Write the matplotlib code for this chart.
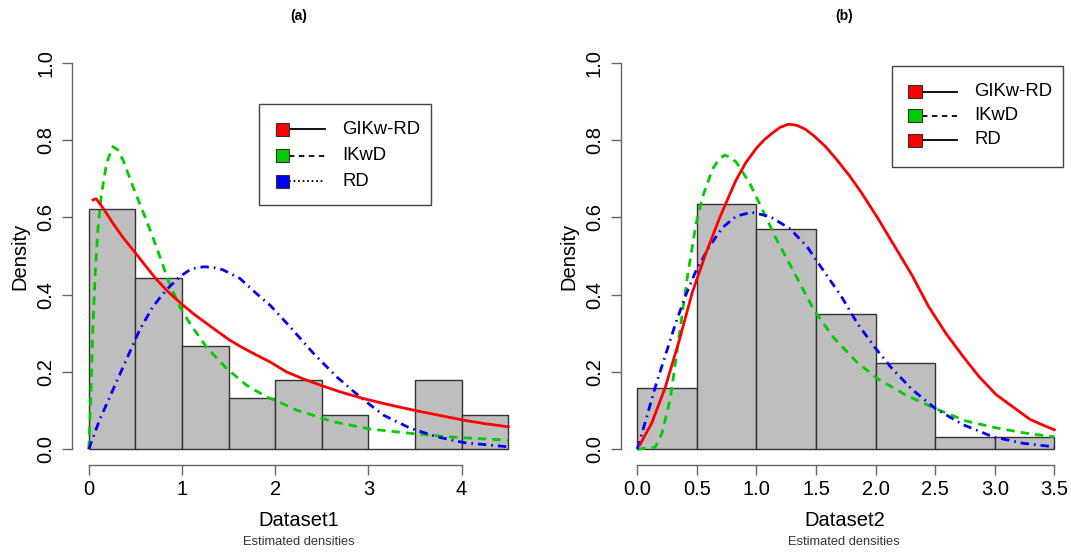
import matplotlib
matplotlib.use("Agg")
import matplotlib.pyplot as plt
from matplotlib.patches import Rectangle
from matplotlib.lines import Line2D
import numpy as np

plt.rcParams['font.family'] = ['Liberation Sans', 'DejaVu Sans']

# ---------------- data ----------------
bin_edges_1 = [0, 0.5, 1, 1.5, 2, 2.5, 3, 3.5, 4, 4.5]
hist_dens_1 = [0.622, 0.444, 0.267, 0.133, 0.178, 0.089, 0.0, 0.178, 0.089]

bin_edges_2 = [0, 0.5, 1, 1.5, 2, 2.5, 3, 3.5]
hist_dens_2 = [0.159, 0.635, 0.571, 0.349, 0.222, 0.032, 0.032]

# panel (a) curves
a_gikw_x = [0.045, 0.08, 0.17, 0.258, 0.36, 0.473, 0.617, 0.72, 0.832, 0.92, 1.01, 1.13,
            1.26, 1.39, 1.513, 1.64, 1.763, 1.943, 2.12, 2.3, 2.48, 2.7, 2.946, 3.2,
            3.484, 3.75, 4.02, 4.25, 4.5]
a_gikw_y = [0.645, 0.648, 0.618, 0.585, 0.55, 0.516, 0.472, 0.441, 0.412, 0.392, 0.373,
            0.349, 0.326, 0.303, 0.282, 0.264, 0.248, 0.226, 0.200, 0.182, 0.166, 0.148,
            0.131, 0.116, 0.101, 0.088, 0.075, 0.066, 0.058]

a_ikw_x = [0.0, 0.02, 0.043, 0.07, 0.097, 0.133, 0.19, 0.258, 0.31, 0.366, 0.473, 0.617,
           0.725, 0.85, 0.975, 1.083, 1.26, 1.477, 1.69, 1.908, 2.05, 2.23, 2.62, 3.02,
           3.45, 3.84, 4.5]
a_ikw_y = [0.0, 0.12, 0.31, 0.46, 0.567, 0.654, 0.74, 0.783, 0.775, 0.749, 0.68, 0.593,
           0.524, 0.438, 0.369, 0.326, 0.265, 0.209, 0.166, 0.135, 0.121, 0.101, 0.071,
           0.052, 0.041, 0.032, 0.023]

a_rd_x = [0.0, 0.115, 0.258, 0.402, 0.545, 0.688, 0.832, 0.975, 1.083, 1.16, 1.244, 1.34,
          1.44, 1.62, 1.835, 1.943, 2.158, 2.41, 2.66, 2.91, 3.162, 3.45, 3.735, 4.02,
          4.5]
a_rd_y = [0.0, 0.075, 0.153, 0.231, 0.308, 0.369, 0.412, 0.446, 0.464, 0.47, 0.472, 0.47,
          0.464, 0.442, 0.395, 0.373, 0.317, 0.248, 0.187, 0.135, 0.088, 0.054, 0.032,
          0.017, 0.006]

# panel (b) curves
b_gikw_x = [0.023, 0.122, 0.235, 0.349, 0.462, 0.575, 0.689, 0.76, 0.83, 0.91, 1.0, 1.07,
            1.142, 1.2, 1.27, 1.34, 1.41, 1.482, 1.58, 1.68, 1.78, 1.879, 2.02, 2.162,
            2.304, 2.445, 2.587, 2.729, 2.87, 3.012, 3.154, 3.296, 3.4, 3.5]
b_gikw_y = [0.012, 0.068, 0.16, 0.278, 0.406, 0.506, 0.597, 0.648, 0.697, 0.741, 0.779,
            0.802, 0.82, 0.833, 0.841, 0.838, 0.828, 0.811, 0.783, 0.747, 0.708, 0.665,
            0.597, 0.524, 0.451, 0.369, 0.301, 0.242, 0.187, 0.141, 0.109, 0.077, 0.063,
            0.05]

b_ikw_x = [0.0, 0.15, 0.207, 0.278, 0.349, 0.419, 0.49, 0.547, 0.632, 0.68, 0.731, 0.78,
           0.83, 0.944, 1.057, 1.17, 1.312, 1.482, 1.652, 1.85, 2.02, 2.247, 2.502, 2.757,
           3.012, 3.267, 3.5]
b_ikw_y = [0.0, 0.005, 0.041, 0.132, 0.287, 0.442, 0.579, 0.652, 0.725, 0.748, 0.761,
           0.756, 0.743, 0.688, 0.615, 0.542, 0.46, 0.36, 0.287, 0.223, 0.182, 0.141,
           0.105, 0.073, 0.055, 0.041, 0.032]

b_rd_x = [0.0, 0.065, 0.15, 0.235, 0.32, 0.405, 0.49, 0.604, 0.717, 0.83, 0.958, 1.114,
          1.284, 1.425, 1.567, 1.709, 1.85, 1.992, 2.134, 2.304, 2.502, 2.729, 2.984,
          3.239, 3.5]
b_rd_y = [0.0, 0.068, 0.16, 0.242, 0.324, 0.397, 0.46, 0.524, 0.574, 0.603, 0.613, 0.602,
          0.57, 0.524, 0.46, 0.397, 0.324, 0.264, 0.21, 0.155, 0.105, 0.064, 0.032,
          0.015, 0.006]

y_ticks = [0.0, 0.2, 0.4, 0.6, 0.8, 1.0]
y_tick_labels = ['0.0', '0.2', '0.4', '0.6', '0.8', '1.0']
x_ticks_1 = [0, 1, 2, 3, 4]
x_ticks_1_labels = ['0', '1', '2', '3', '4']
x_ticks_2 = [0.0, 0.5, 1.0, 1.5, 2.0, 2.5, 3.0, 3.5]
x_ticks_2_labels = ['0.0', '0.5', '1.0', '1.5', '2.0', '2.5', '3.0', '3.5']

legend_a_labels = ['GIKw-RD', 'IKwD', 'RD']
legend_a_colors = ['#FF0000', '#00CD00', '#0000FF']
legend_a_styles = ['-', (0, (3, 2.5)), (0, (1, 1.5))]
legend_b_labels = ['GIKw-RD', 'IKwD', 'RD']
legend_b_colors = ['#FF0000', '#00CD00', '#FF0000']
legend_b_styles = ['-', (0, (3, 2.5)), '-']

# ---------------- figure ----------------
W, H = 1071, 552
fig = plt.figure(figsize=(W / 100, H / 100), dpi=100)


def fx(px):
    return px / W


def fy(py):
    return 1 - py / H


RED, GREEN, BLUE = '#FF0000', '#00CD00', '#0000FF'
AXC = '#666666'
FS = 14.5


def make_panel(rect, edges, dens, xlim, xbound, xticks, xticklabels):
    ax = fig.add_axes(rect)
    widths = np.diff(edges)
    ax.bar(edges[:-1], dens, width=widths, align='edge', color='#BEBEBE',
           edgecolor='#333333', linewidth=1.0, zorder=1)
    ax.set_xlim(*xlim)
    ax.set_ylim(-0.04, 1.04)
    for s in ['top', 'right']:
        ax.spines[s].set_visible(False)
    ax.spines['left'].set_bounds(0, 1)
    ax.spines['bottom'].set_bounds(*xbound)
    for s in ['left', 'bottom']:
        ax.spines[s].set_color(AXC)
        ax.spines[s].set_linewidth(1.0)
    ax.set_yticks(y_ticks)
    ax.set_yticklabels(y_tick_labels)
    ax.set_xticks(xticks)
    ax.set_xticklabels(xticklabels)
    ax.tick_params(axis='both', length=7, width=1.0, color=AXC, labelsize=FS)
    ax.tick_params(axis='y', labelrotation=90, pad=5)
    ax.tick_params(axis='x', pad=4)
    for lab in ax.get_yticklabels():
        lab.set_va('center')
    ax.set_ylabel('Density', fontsize=FS, labelpad=5)
    return ax


axA = make_panel([fx(72), fy(464.6), fx(525) - fx(72), fy(47.3) - fy(464.6)],
                 bin_edges_1, hist_dens_1, (-0.18, 4.68), (0, 4),
                 x_ticks_1, x_ticks_1_labels)
axB = make_panel([fx(620.6), fy(464.6), fx(1071) - fx(620.6), fy(47.3) - fy(464.6)],
                 bin_edges_2, hist_dens_2, (-0.14, 3.64), (0, 3.5),
                 x_ticks_2, x_ticks_2_labels)

LW = 2.0
for ax, (ix, iy), (rx, ry), (gx, gy) in [
        (axA, (a_ikw_x, a_ikw_y), (a_rd_x, a_rd_y), (a_gikw_x, a_gikw_y)),
        (axB, (b_ikw_x, b_ikw_y), (b_rd_x, b_rd_y), (b_gikw_x, b_gikw_y))]:
    ax.plot(ix, iy, color=GREEN, lw=LW, dashes=(3, 2.2), zorder=3,
            dash_joinstyle='round', dash_capstyle='butt')
    ax.plot(rx, ry, color=BLUE, lw=LW, dashes=(3, 1.8, 0.6, 1.8), zorder=3,
            dash_joinstyle='round')
    ax.plot(gx, gy, color=RED, lw=LW, zorder=4, solid_joinstyle='round')

# titles, axis labels and subtitles (figure text)
centers = [(72 + 525) / 2, (620.6 + 1071) / 2 - 1.5]
for cx, t, xl in zip(centers, ['(a)', '(b)'], ['Dataset1', 'Dataset2']):
    fig.text(fx(cx), fy(16), t, ha='center', va='center', fontsize=10, fontweight='bold')
    fig.text(fx(cx), fy(521), xl, ha='center', va='center', fontsize=FS)
    fig.text(fx(cx), fy(542), 'Estimated densities', ha='center', va='center',
             fontsize=9.3, color='#333333')


def draw_legend(box, sq_x0, sq_x1, line_x1, text_x, rows, labels, colors, styles):
    x0, y0, x1, y1 = box
    fig.add_artist(Rectangle((fx(x0), fy(y1)), fx(x1) - fx(x0), fy(y0) - fy(y1),
                             transform=fig.transFigure, facecolor='white',
                             edgecolor='#444444', linewidth=1.0, zorder=5))
    for ry, lab, col, st in zip(rows, labels, colors, styles):
        fig.add_artist(Line2D([fx(sq_x1), fx(line_x1)], [fy(ry), fy(ry)],
                              transform=fig.transFigure, color='black', lw=1.3,
                              linestyle=st, zorder=6))
        fig.add_artist(Rectangle((fx(sq_x0), fy(ry + 6.5)), fx(sq_x1) - fx(sq_x0),
                                 fy(ry - 6.5) - fy(ry + 6.5), transform=fig.transFigure,
                                 facecolor=col, edgecolor='#333333', linewidth=0.8,
                                 zorder=7))
        fig.text(fx(text_x), fy(ry), lab, ha='left', va='center', fontsize=13.3,
                 zorder=8)


draw_legend((259, 104, 431, 205), 276, 289, 325, 342, [129, 155.5, 181],
            legend_a_labels, legend_a_colors, legend_a_styles)
draw_legend((892, 66, 1063, 167), 908, 922, 957, 974, [91.5, 115.5, 140],
            legend_b_labels, legend_b_colors, legend_b_styles)

fig.savefig('out.png', dpi=100)
